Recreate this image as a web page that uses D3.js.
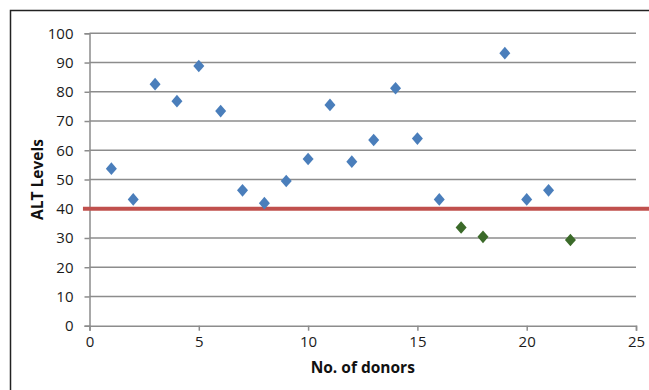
<!DOCTYPE html>
<html>
<head>
<meta charset="utf-8">
<script src="https://cdn.jsdelivr.net/npm/d3@7"></script>
<style>
  body { margin: 0; background: #fff; }
  text { font-family: "Open Sans", "Liberation Sans", sans-serif; }
</style>
</head>
<body>
<div id="chart"></div>
<script>
// donor number and ALT level
const donors = [1, 2, 3, 4, 5, 6, 7, 8, 9, 10, 11, 12, 13, 14, 15, 16, 17, 18, 19, 20, 21, 22];
const altLevels = [53.7, 43.2, 82.6, 76.8, 88.8, 73.4, 46.3, 41.9, 49.5, 57.0, 75.5, 56.1, 63.5, 81.2, 64.0, 43.2, 33.6, 30.4, 93.2, 43.2, 46.3, 29.3];
const cutoff = 40;
const xTicks = [0, 5, 10, 15, 20, 25];
const yTicks = [0, 10, 20, 30, 40, 50, 60, 70, 80, 90, 100];

const width = 649, height = 390;
const margin = { top: 33.3, right: 13, bottom: 64.3, left: 89.5 };
const plotW = width - margin.left - margin.right,
      plotH = height - margin.top - margin.bottom;

const svg = d3.select('#chart').append('svg')
  .attr('width', width)
  .attr('height', height);

// chart border (only left and top are visible in the picture)
svg.append('path')
  .attr('d', 'M10.5,' + height + 'V10.5H' + width)
  .attr('fill', 'none')
  .attr('stroke', '#222')
  .attr('stroke-width', 1.5);

const g = svg.append('g')
  .attr('transform', 'translate(' + margin.left + ',' + margin.top + ')');

const x = d3.scaleLinear().domain([0, 25]).range([0, plotW]);
const y = d3.scaleLinear().domain([0, 100]).range([plotH, 0]);

// gridlines
g.append('g')
  .selectAll('line')
  .data(yTicks.filter(d => d > 0))
  .enter().append('line')
    .attr('x1', 0).attr('x2', plotW)
    .attr('y1', d => y(d)).attr('y2', d => y(d))
    .attr('stroke', '#8c8c8c')
    .attr('stroke-width', 1.5);

// y axis
const yAxis = g.append('g')
  .call(d3.axisLeft(y).tickValues(yTicks).tickSize(5).tickPadding(11));
yAxis.select('.domain').attr('stroke', '#8c8c8c').attr('stroke-width', 1.5);
yAxis.selectAll('.tick line').attr('stroke', '#8c8c8c').attr('stroke-width', 1.5);
yAxis.selectAll('text').attr('font-size', 15).attr('fill', '#1a1a1a')
  .attr('font-family', '"Open Sans", sans-serif');

// x axis
const xAxis = g.append('g')
  .attr('transform', 'translate(0,' + plotH + ')')
  .call(d3.axisBottom(x).tickValues(xTicks).tickSize(5).tickPadding(6));
xAxis.select('.domain').attr('stroke', '#8c8c8c').attr('stroke-width', 1.5);
xAxis.selectAll('.tick line').attr('stroke', '#8c8c8c').attr('stroke-width', 1.5);
xAxis.selectAll('text').attr('font-size', 15).attr('fill', '#1a1a1a')
  .attr('font-family', '"Open Sans", sans-serif');

// cut-off line at 40
g.append('line')
  .attr('x1', x(-0.3)).attr('x2', x(25.8))
  .attr('y1', y(cutoff)).attr('y2', y(cutoff))
  .attr('stroke', '#c0504d')
  .attr('stroke-width', 4);

// diamond markers, slightly taller than wide
const diamond = {
  draw: function(ctx, size) {
    const w = Math.sqrt(size) * 0.5, h = w * 1.15;
    ctx.moveTo(0, -h); ctx.lineTo(w, 0); ctx.lineTo(0, h); ctx.lineTo(-w, 0); ctx.closePath();
  }
};

g.append('g')
  .selectAll('path')
  .data(donors.map((d, i) => ({ donor: d, alt: altLevels[i] })))
  .enter().append('path')
    .attr('transform', d => 'translate(' + x(d.donor) + ',' + y(d.alt) + ')')
    .attr('d', d3.symbol().type(diamond).size(121))
    .attr('fill', d => d.alt < cutoff ? '#3b6a29' : '#4a7ebb');

// axis titles
svg.append('text')
  .attr('x', margin.left + plotW / 2)
  .attr('y', 373)
  .attr('text-anchor', 'middle')
  .attr('font-size', 15.5)
  .attr('font-weight', 'bold')
  .attr('fill', '#111')
  .text('No. of donors');

svg.append('text')
  .attr('transform', 'translate(43,' + (margin.top + plotH / 2) + ') rotate(-90)')
  .attr('text-anchor', 'middle')
  .attr('font-size', 15.5)
  .attr('font-weight', 'bold')
  .attr('fill', '#111')
  .text('ALT Levels');
</script>
</body>
</html>
